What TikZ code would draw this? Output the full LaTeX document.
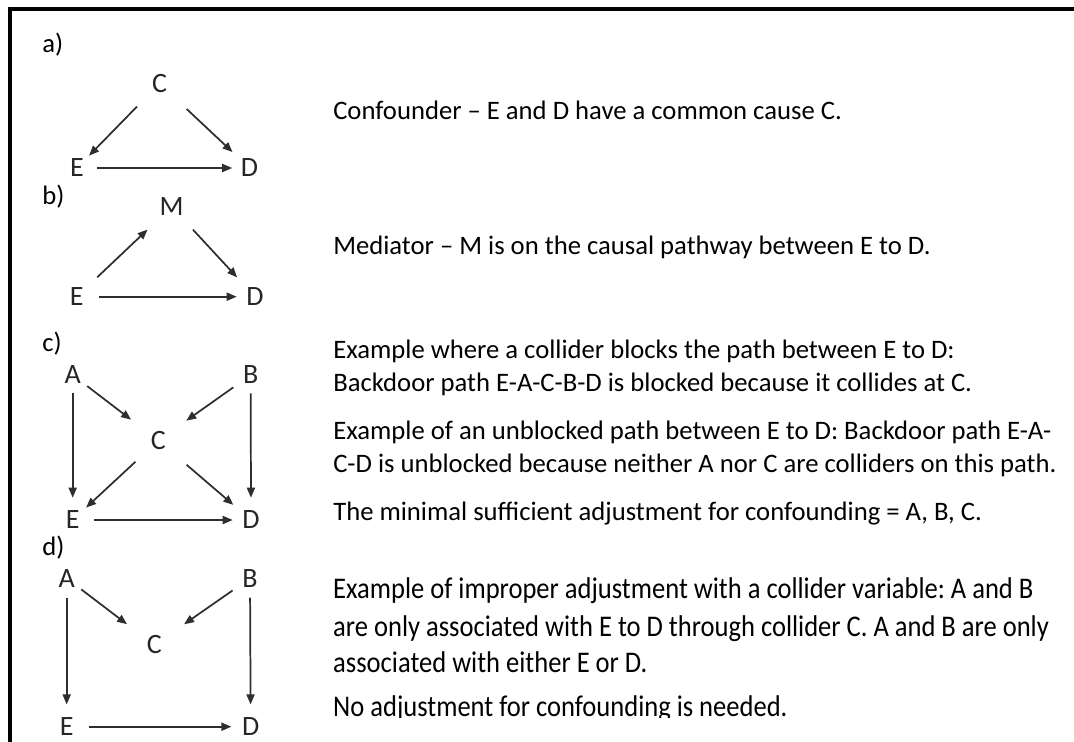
\documentclass[tikz,border=0pt]{standalone}
\usepackage{fontspec}
\setmainfont{Carlito}
\usetikzlibrary{arrows.meta}
\frenchspacing
\begin{document}
\begin{tikzpicture}[x=0.75pt,y=-0.75pt,
  var/.style={circle,inner sep=0pt,minimum size=21pt,text=black!85,font=\fontsize{21}{23}\selectfont},
  lab/.style={anchor=west,inner sep=0pt,font=\fontsize{20}{24}\selectfont},
  txt/.style={anchor=base west,inner sep=0pt,font=\fontsize{20}{24}\selectfont},
  txtd/.style={anchor=base west,inner sep=0pt,font=\fontsize{22.5}{27}\selectfont,xscale=0.885},
  arr/.style={draw=black!82,line width=1.3pt,-{Triangle[length=7.5pt,width=6pt]}},
  sh/.style 2 args={shorten <=#1*0.75pt,shorten >=#2*0.75pt}]
\useasboundingbox (0,0) rectangle (1074,742);
\draw[line width=2.5pt] (10,742) -- (10,9) -- (1074,9);

% labels
\node[lab] (la) at (42,45) {a)};
\node[lab] (lb) at (42,197) {b)};
\node[lab] (lc) at (42,344) {c)};
\node[lab] (ld) at (42,548) {d)};

% a) confounder
\node[var] (aC) at (159.5,83.5) {C};
\node[var] (aE) at (77,168) {E};
\node[var] (aD) at (249.5,168) {D};
\draw[arr,sh={18}{3}] (aC) -- (aE);
\draw[arr,sh={23}{9}] (aC) -- (aD);
\draw[arr,sh={6}{3}] (aE) -- (aD);

% b) mediator
\node[var] (bM) at (171.7,206.7) {M};
\node[var] (bE) at (76.7,296.7) {E};
\node[var] (bD) at (255,296.7) {D};
\draw[arr,sh={14}{18}] (bE) -- (bM);
\draw[arr,sh={16}{12}] (bM) -- (bD);
\draw[arr,sh={8}{4}] (bE) -- (bD);

% c) collider with confounding
\node[var] (cA) at (72.7,375) {A};
\node[var] (cB) at (250.7,375) {B};
\node[var] (cC) at (158.3,440.5) {C};
\node[var] (cE) at (72.7,520) {E};
\node[var] (cD) at (251,520) {D};
\draw[arr,sh={4}{8}] (cA) -- (cE);
\draw[arr,sh={4}{8}] (cB) -- (cD);
\draw[arr,sh={4}{20}] (cA) -- (cC);
\draw[arr,sh={7}{20}] (cB) -- (cC);
\draw[arr,sh={17}{4}] (cC) -- (cE);
\draw[arr,sh={23}{9}] (cC) -- (cD);
\draw[arr,sh={7}{4}] (cE) -- (cD);

% d) improper adjustment
\node[var] (dA) at (66.7,578.3) {A};
\node[var] (dB) at (250,578.3) {B};
\node[var] (dC) at (154.3,645) {C};
\node[var] (dE) at (66.7,726.7) {E};
\node[var] (dD) at (250.7,726.7) {D};
\draw[arr,sh={5}{8}] (dA) -- (dE);
\draw[arr,sh={5}{8}] (dB) -- (dD);
\draw[arr,sh={4}{20}] (dA) -- (dC);
\draw[arr,sh={7}{22}] (dB) -- (dC);
\draw[arr,sh={8}{5}] (dE) -- (dD);

% texts
\node[txt] (ta) at (333,119) {Confounder – E and D have a common cause C.};
\node[txt] (tb) at (333,254) {Mediator – M is on the causal pathway between E to D.};
\node[txt] (tc1) at (333,358) {Example where a collider blocks the path between E to D:};
\node[txt] (tc2) at (333,391) {Backdoor path E-A-C-B-D is blocked because it collides at C.};
\node[txt] (tc3) at (333,439) {Example of an unblocked path between E to D: Backdoor path E-A-};
\node[txt] (tc4) at (333,472) {C-D is unblocked because neither A nor C are colliders on this path.};
\node[txt] (tc5) at (333,520) {The minimal sufficient adjustment for confounding = A, B, C.};
\node[txtd] (td1) at (333,598) {Example of improper adjustment with a collider variable: A and B};
\node[txtd] (td2) at (333,636) {are only associated with E to D through collider C. A and B are only};
\node[txtd] (td3) at (333,672) {associated with either E or D.};
\begin{scope}
\clip (300,600) rectangle (1074,717);
\node[txtd] (td4) at (333,716) {No adjustment for confounding is needed.};
\end{scope}
\end{tikzpicture}
\end{document}
